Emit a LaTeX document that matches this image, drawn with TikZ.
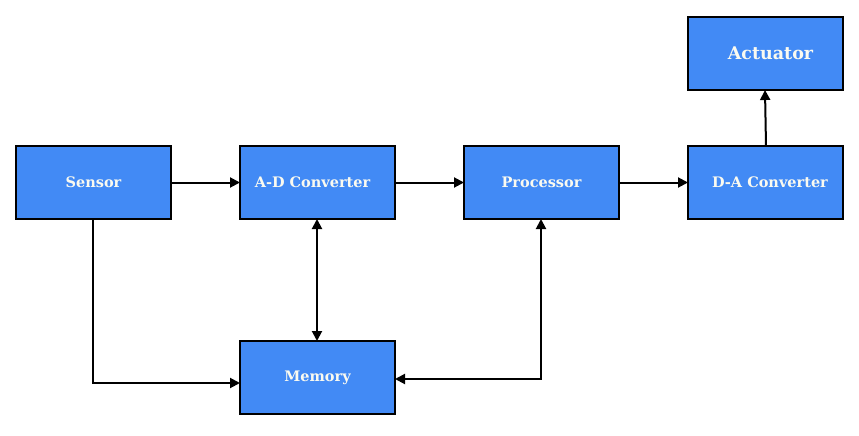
\documentclass[tikz,border=0pt]{standalone}
\usepackage{fontspec}
\setmainfont{DejaVu Serif}
\usetikzlibrary{arrows.meta}
\definecolor{boxblue}{RGB}{66,138,245}
\definecolor{txt}{RGB}{250,250,240}
\begin{document}
\begin{tikzpicture}[x=1pt,y=-1pt,
  blk/.style={draw=black,line width=2.2pt,fill=boxblue,text=txt,font=\bfseries\fontsize{14.5}{16}\selectfont,
    minimum width=155pt,minimum height=73pt,inner sep=0pt,outer sep=0pt,anchor=north west},
  conn/.style={line width=2pt,-{Triangle[length=10pt,width=10pt]}},
  both/.style={line width=2pt,{Triangle[length=10pt,width=10pt]}-{Triangle[length=10pt,width=10pt]}}]
\useasboundingbox (0,0) rectangle (859,436);
\node[blk] (sensor) at (16,146) {Sensor};
\node[blk] (adc) at (240,146) {A-D Converter\kern10pt};
\node[blk] (proc) at (464,146) {Processor};
\node[blk] (dac) at (688,146) {\kern9pt D-A Converter};
\node[blk,font=\bfseries\fontsize{17.5}{19}\selectfont] (act) at (688,17) {\kern10pt Actuator};
\node[blk] (mem) at (240,341) {Memory};
\coordinate (c1) at (93,383);
\coordinate (c2) at (541,379);
\draw[conn] (sensor.east) -- (adc.west);
\draw[conn] (adc.east) -- (proc.west);
\draw[conn] (proc.east) -- (dac.west);
\draw[conn] (dac.north -| 766,0) -- (act.south -| 765,0);
\draw[both] (adc.south -| 317,0) -- (mem.north -| 317,0);
\draw[conn] (sensor.south -| c1) -- (c1) -- (c1 -| mem.west);
\draw[both] (proc.south -| c2) -- (c2) -- (c2 -| mem.east);
\end{tikzpicture}
\end{document}
